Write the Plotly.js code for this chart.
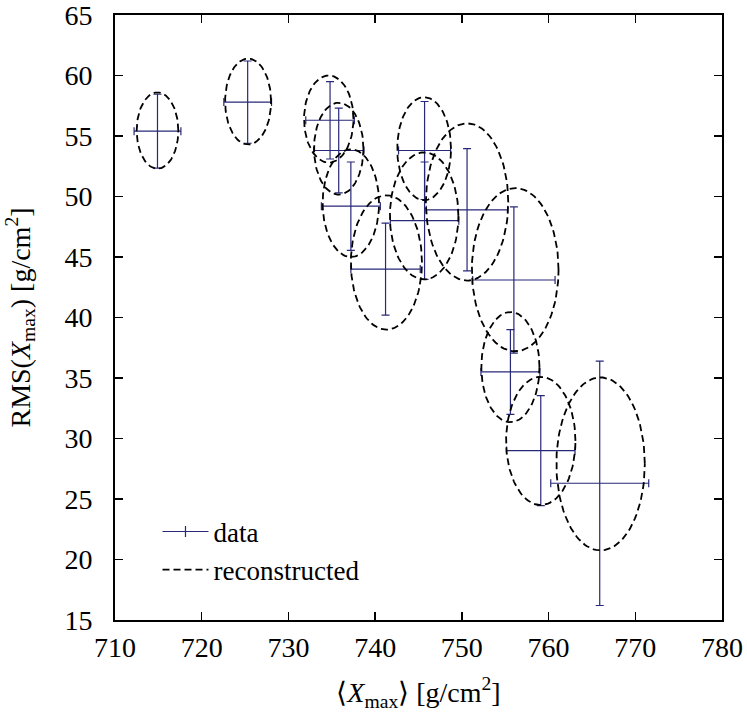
<!DOCTYPE html>
<html>
<head>
<meta charset="utf-8">
<script src="https://cdn.plot.ly/plotly-3.0.1.min.js"></script>
<style>
  body { margin: 0; background: #fff; }
  #fig { width: 747px; height: 718px; }
</style>
</head>
<body>
<div id="fig"></div>
<script>
// measured points: <Xmax>, RMS(Xmax) and their errors
var xMean  = [714.9, 725.3, 734.8, 735.8, 737.2, 741.2, 745.7, 745.7, 750.6, 756.0, 755.6, 759.1, 765.9];
var rms    = [55.4, 57.8, 56.3, 53.8, 49.2, 44.0, 53.8, 48.0, 48.9, 43.1, 35.5, 29.0, 26.3];
var xErr   = [2.7, 2.75, 2.8, 2.9, 3.4, 4.0, 3.0, 3.95, 4.7, 4.75, 3.4, 3.95, 5.65];
var rmsErr = [3.05, 3.4, 3.2, 3.5, 3.65, 3.8, 4.05, 4.85, 5.05, 6.05, 3.5, 4.55, 10.1];

// reconstructed ellipses: centre and half-axes
var ellX = [714.9, 725.35, 734.65, 735.8, 737.2, 741.3, 745.65, 745.65, 750.6, 756.15, 755.6, 759.1, 766.0];
var ellY = [55.45, 57.85, 56.4, 53.95, 49.45, 44.55, 53.95, 48.4, 49.55, 43.95, 35.9, 29.8, 27.9];
var ellA = [2.4, 2.65, 2.85, 2.85, 3.25, 4.1, 3.1, 3.95, 4.75, 5.0, 3.35, 4.0, 5.1];
var ellB = [3.15, 3.55, 3.6, 3.8, 4.45, 5.55, 4.25, 5.25, 6.5, 6.75, 4.55, 5.3, 7.15];

var xTicks = [710, 720, 730, 740, 750, 760, 770, 780];
var yTicks = [15, 20, 25, 30, 35, 40, 45, 50, 55, 60, 65];

var barColor = 'rgb(40,40,120)';
var font = 'Liberation Serif';

// outline of every ellipse, separated by gaps
var ex = [], ey = [];
for (var i = 0; i < ellX.length; i++) {
  for (var k = 0; k <= 120; k++) {
    var t = 2 * Math.PI * k / 120;
    ex.push(ellX[i] + ellA[i] * Math.cos(t));
    ey.push(ellY[i] + ellB[i] * Math.sin(t));
  }
  ex.push(null); ey.push(null);
}

var dataPts = {
  x: xMean, y: rms, mode: 'markers', name: 'data', showlegend: false,
  marker: {size: 1, color: 'rgba(0,0,0,0)'},
  error_x: {type: 'data', array: xErr, visible: true, color: barColor, thickness: 1.2, width: 4},
  error_y: {type: 'data', array: rmsErr, visible: true, color: barColor, thickness: 1.2, width: 4},
  hoverinfo: 'x+y'
};
// legend entry for the data
var dataKey = {
  x: [null], y: [null], mode: 'lines+markers', name: 'data', legendgroup: 'a',
  line: {color: barColor, width: 1.2},
  marker: {symbol: 'line-ns-open', size: 8, color: barColor, line: {color: barColor, width: 1.2}}
};
var ellipses = {
  x: ex, y: ey, mode: 'lines', name: 'reconstructed', legendgroup: 'b',
  line: {color: '#000', width: 1.8, dash: '7px,4px'},
  connectgaps: false, hoverinfo: 'skip'
};

var axisCommon = {
  showgrid: false, zeroline: false, showline: true, linewidth: 2, linecolor: '#000',
  mirror: 'allticks', ticks: 'inside', ticklen: 8, tickwidth: 1.5, tickcolor: '#000',
  ticklabeloverflow: 'allow',
  tickfont: {family: font, size: 28, color: '#000'}
};

var layout = {
  width: 747, height: 718,
  margin: {l: 115, r: 25, t: 15, b: 98},
  paper_bgcolor: '#fff', plot_bgcolor: '#fff',
  font: {family: font, size: 28, color: '#000'},
  xaxis: Object.assign({}, axisCommon, {
    range: [710, 780], tickvals: xTicks, ticklabelstandoff: 1,
    title: {text: '\u27E8<i>X</i><sub>max</sub>\u27E9 [g/cm<sup>2</sup>]', font: {family: font, size: 28}, standoff: 21}
  }),
  yaxis: Object.assign({}, axisCommon, {
    range: [15, 65], tickvals: yTicks, ticklabelstandoff: 15,
    title: {text: 'RMS(<i>X</i><sub>max</sub>) [g/cm<sup>2</sup>]', font: {family: font, size: 28}, standoff: 26}
  }),
  legend: {
    x: 0.07, y: 0.186, xanchor: 'left', yanchor: 'top',
    bgcolor: 'rgba(0,0,0,0)', borderwidth: 0,
    font: {family: font, size: 27},
    itemwidth: 46,
    traceorder: 'grouped', tracegroupgap: 0
  },
  showlegend: true
};

Plotly.newPlot('fig', [dataPts, dataKey, ellipses], layout, {displayModeBar: false, staticPlot: true});
</script>
</body>
</html>
